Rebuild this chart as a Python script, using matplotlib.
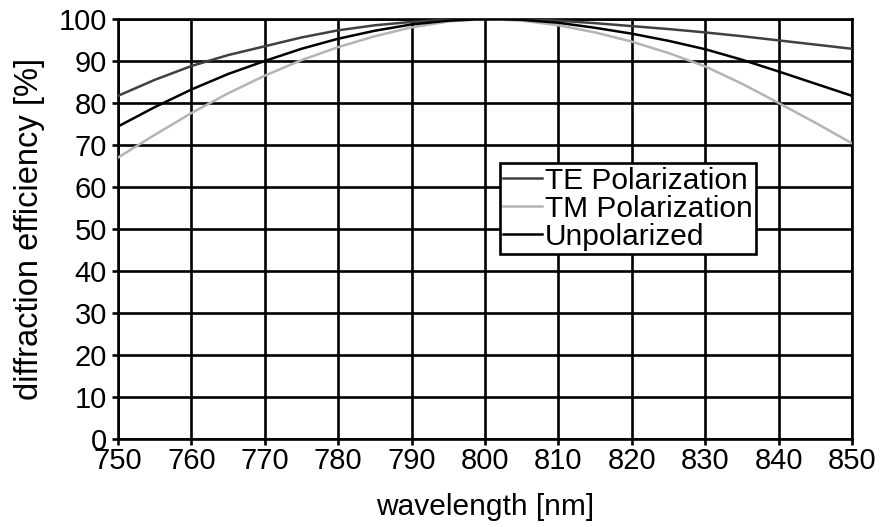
import matplotlib
matplotlib.use("Agg")
import matplotlib.pyplot as plt

plt.rcParams['font.family'] = ['Liberation Sans', 'DejaVu Sans']

# Wavelength samples [nm]
wavelength = [750, 755, 760, 765, 770, 775, 780, 785, 790, 795, 800,
              805, 810, 815, 820, 825, 830, 835, 840, 845, 850]

# Diffraction efficiency [%]
te_eff = [81.7, 85.5, 88.8, 91.4, 93.5, 95.6, 97.3, 98.5, 99.3, 99.8, 100.0,
          99.9, 99.6, 99.0, 98.3, 97.6, 96.8, 95.9, 94.9, 93.9, 92.9]
tm_eff = [67.0, 72.4, 77.6, 82.3, 86.5, 90.2, 93.3, 95.9, 98.0, 99.4, 100.0,
          99.6, 98.5, 96.8, 94.6, 91.9, 88.7, 84.6, 80.0, 75.3, 70.4]
unpol_eff = [74.4, 79.0, 83.2, 86.9, 90.0, 92.9, 95.3, 97.2, 98.7, 99.6, 100.0,
             99.8, 99.1, 97.9, 96.5, 94.8, 92.8, 90.3, 87.5, 84.6, 81.7]

x_ticks = [750, 760, 770, 780, 790, 800, 810, 820, 830, 840, 850]
y_ticks = [0, 10, 20, 30, 40, 50, 60, 70, 80, 90, 100]

fig = plt.figure(figsize=(8.85, 5.27), dpi=100)
ax = fig.add_axes([0.1333, 0.167, 0.8294, 0.797])

ax.plot(wavelength, te_eff, color='#404040', lw=1.8, label='TE Polarization', zorder=3)
ax.plot(wavelength, tm_eff, color='#b4b4b4', lw=1.8, label='TM Polarization', zorder=3)
ax.plot(wavelength, unpol_eff, color='black', lw=1.8, label='Unpolarized', zorder=4)

ax.set_xlim(750, 850)
ax.set_ylim(0, 100)
ax.set_xticks(x_ticks)
ax.set_yticks(y_ticks)
ax.grid(True, color='black', lw=1.9)
ax.set_axisbelow(True)
for s in ax.spines.values():
    s.set_linewidth(1.9)
    s.set_color('black')
ax.tick_params(axis='both', direction='out', length=4, width=1.9, labelsize=21)
ax.tick_params(axis='x', pad=2)
ax.tick_params(axis='y', pad=4)

ax.set_xlabel('wavelength [nm]', fontsize=21.5, labelpad=13)
ax.set_ylabel('diffraction efficiency [%]', fontsize=23.5, labelpad=10)

leg = ax.legend(loc='upper left', bbox_to_anchor=(0.520, 0.657), fontsize=21.5,
                frameon=True, fancybox=False, shadow=False, framealpha=1,
                edgecolor='black', handlelength=1.3, handletextpad=0.1,
                labelspacing=0.0, borderpad=0.12, borderaxespad=0)
leg.get_frame().set_linewidth(1.9)

fig.savefig('out.png', dpi=100)
